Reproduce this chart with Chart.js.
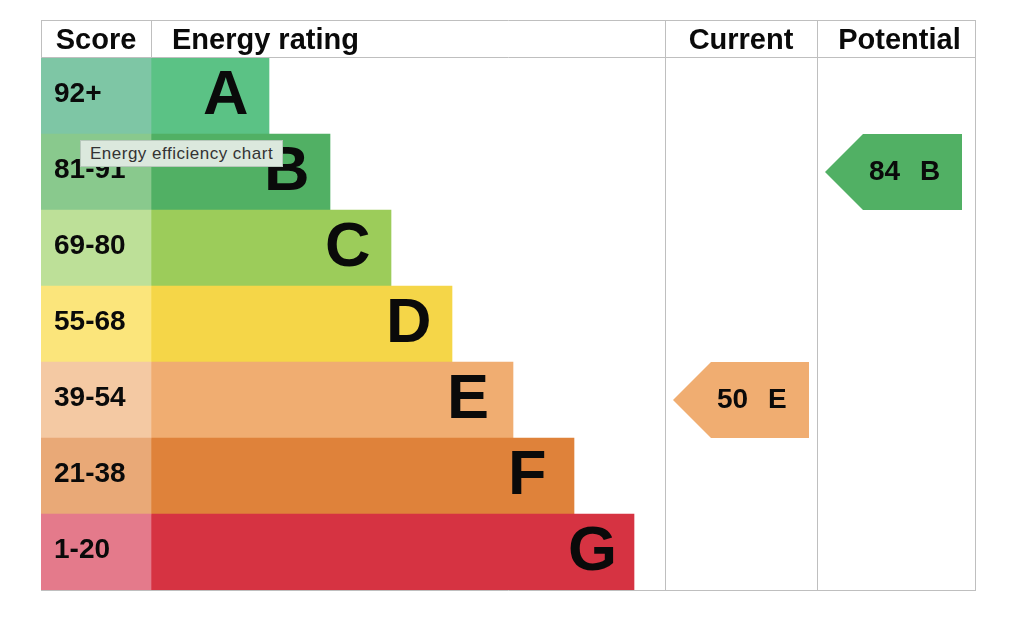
<!DOCTYPE html>
<html>
<head>
<meta charset="utf-8">
<title>Energy efficiency chart</title>
<script src="https://cdn.jsdelivr.net/npm/chart.js@4/dist/chart.umd.min.js"></script>
<style>
    body { margin: 0; background: #ffffff; }
    #wrap { position: relative; width: 1024px; height: 627px; }
    #tip {
        position: absolute; left: 80px; top: 140px; height: 25px;
        padding: 0 9px; line-height: 26px;
        background: #dbe8dd; border: 1px solid #b7c8bb;
        font-family: 'Liberation Sans', Arial, sans-serif; font-size: 17px;
        color: #333; letter-spacing: 0.5px; white-space: nowrap;
    }
</style>
</head>
<body>
<div id="wrap">
    <canvas id="epc-chart"></canvas>
    <div id="tip">Energy efficiency chart</div>
</div>
<script>
// Rating bands, top (best) to bottom (worst)
const bands = ['A', 'B', 'C', 'D', 'E', 'F', 'G'];
const scoreRanges = ['92+', '81-91', '69-80', '55-68', '39-54', '21-38', '1-20'];
const bandMinScores = [92, 81, 69, 55, 39, 21, 1];
const barColors = ['#5bc285', '#51b064', '#9ccc5a', '#f5d648', '#f0ad71', '#df823a', '#d63342'];
const scoreColors = ['#7ec6a5', '#89c98d', '#bde098', '#fbe57b', '#f4c9a3', '#e9a977', '#e47a8b'];

// horizontal table units (0 = left edge of table)
const scoreColumnEnd = 110;
const barEnds = [228, 289, 350, 411, 472, 533, 593];
const columnEdges = [0, 110, 624, 776, 935];
const headers = ['Score', 'Energy rating', 'Current', 'Potential'];

const currentScore = 50;
const potentialScore = 84;
const currentArrow = [632, 768];
const potentialArrow = [784, 921];

function bandIndex(score) {
    return bandMinScores.findIndex(min => score >= min);
}

function arrowData(score, span) {
    const idx = bandIndex(score);
    return bands.map((b, i) => i === idx ? span : null);
}

const colors = {
    line: '#bfbfbf',
    text: '#0a0a0a'
};
const fontFamily = "'Liberation Sans', Arial, Helvetica, sans-serif";
const headerHeight = 38;

// Table frame, header row and labels
const tablePlugin = {
    id: 'epcTable',
    beforeDatasetsDraw(chart) {
        const ctx = chart.ctx;
        const area = chart.chartArea;
        const xs = chart.scales.x;
        const top = area.top - headerHeight;
        const left = xs.getPixelForValue(columnEdges[0]);
        const right = xs.getPixelForValue(columnEdges[columnEdges.length - 1]);
        ctx.save();
        ctx.strokeStyle = colors.line;
        ctx.lineWidth = 1;
        ctx.beginPath();
        ctx.moveTo(left, top + 0.5); ctx.lineTo(right, top + 0.5);
        ctx.moveTo(left, area.top - 0.5); ctx.lineTo(right, area.top - 0.5);
        ctx.moveTo(left, area.bottom + 0.5); ctx.lineTo(right, area.bottom + 0.5);
        columnEdges.forEach((v, i) => {
            const x = Math.round(xs.getPixelForValue(v)) + (i === columnEdges.length - 1 ? -0.5 : 0.5);
            const bottom = (i === 1) ? area.top : area.bottom;
            ctx.moveTo(x, top); ctx.lineTo(x, bottom);
        });
        ctx.stroke();

        ctx.fillStyle = colors.text;
        ctx.font = 'bold 29px ' + fontFamily;
        ctx.textBaseline = 'middle';
        const midY = top + headerHeight / 2 + 2;
        headers.forEach((h, i) => {
            const x0 = xs.getPixelForValue(columnEdges[i]);
            const x1 = xs.getPixelForValue(columnEdges[i + 1]);
            if (i === 1) {
                ctx.textAlign = 'left';
                ctx.fillText(h, x0 + 21, midY);
            } else {
                ctx.textAlign = 'center';
                ctx.fillText(h, (x0 + x1) / 2 + (i === 3 ? 3 : 0), midY);
            }
        });
        ctx.restore();
    },
    afterDatasetsDraw(chart) {
        const ctx = chart.ctx;
        ctx.save();
        ctx.fillStyle = colors.text;
        ctx.textBaseline = 'middle';

        // score range labels
        const scoreMeta = chart.getDatasetMeta(0);
        ctx.font = 'bold 28px ' + fontFamily;
        ctx.textAlign = 'left';
        scoreMeta.data.forEach((el, i) => {
            ctx.fillText(scoreRanges[i], el.base + 13, el.y - 2);
        });

        // big band letters
        const barMeta = chart.getDatasetMeta(1);
        ctx.font = 'bold 63px ' + fontFamily;
        ctx.textAlign = 'left';
        barMeta.data.forEach((el, i) => {
            ctx.fillText(bands[i], el.x - 66, el.y + 1);
        });

        // current / potential arrows
        [2, 3].forEach(di => {
            const ds = chart.data.datasets[di];
            const meta = chart.getDatasetMeta(di);
            meta.data.forEach((el, i) => {
                if (ds.data[i] == null) return;
                const half = el.height / 2;
                const x0 = Math.min(el.x, el.base);
                const x1 = Math.max(el.x, el.base);
                ctx.fillStyle = barColors[i];
                ctx.beginPath();
                ctx.moveTo(x0, el.y);
                ctx.lineTo(x0 + half, el.y - half);
                ctx.lineTo(x1, el.y - half);
                ctx.lineTo(x1, el.y + half);
                ctx.lineTo(x0 + half, el.y + half);
                ctx.closePath();
                ctx.fill();
                ctx.fillStyle = colors.text;
                ctx.font = 'bold 28px ' + fontFamily;
                ctx.textAlign = 'left';
                ctx.fillText(String(ds.score), x0 + 44, el.y);
                ctx.fillText(bands[i], x0 + 95, el.y);
            });
        });
        ctx.restore();
    }
};

const ctx = document.getElementById('epc-chart');
new Chart(ctx, {
    type: 'bar',
    data: {
        labels: bands,
        datasets: [
            {
                label: 'Score',
                data: bands.map(() => [0, scoreColumnEnd]),
                backgroundColor: scoreColors
            },
            {
                label: 'Energy rating',
                data: barEnds.map(end => [scoreColumnEnd, end]),
                backgroundColor: barColors
            },
            {
                label: 'Current',
                score: currentScore,
                data: arrowData(currentScore, currentArrow),
                backgroundColor: 'transparent'
            },
            {
                label: 'Potential',
                score: potentialScore,
                data: arrowData(potentialScore, potentialArrow),
                backgroundColor: 'transparent'
            }
        ]
    },
    options: {
        indexAxis: 'y',
        responsive: true,
        maintainAspectRatio: false,
        animation: false,
        datasets: {
            bar: {
                grouped: false,
                barPercentage: 1,
                categoryPercentage: 1,
                borderWidth: 0
            }
        },
        layout: {
            padding: { left: 41, right: 48, top: 58, bottom: 37 }
        },
        plugins: {
            legend: { display: false },
            tooltip: { enabled: false }
        },
        events: [],
        scales: {
            x: {
                display: false,
                min: columnEdges[0],
                max: columnEdges[columnEdges.length - 1]
            },
            y: {
                display: false
            }
        }
    },
    plugins: [tablePlugin]
});
</script>
</body>
</html>
